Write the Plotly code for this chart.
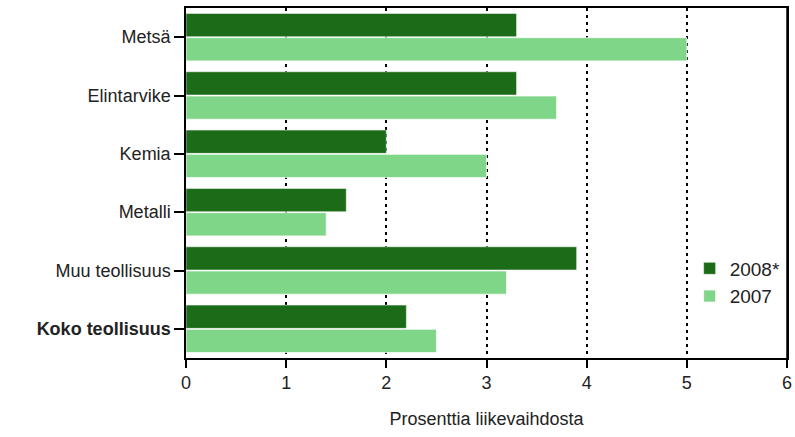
import plotly.graph_objects as go

categories = ["Metsä", "Elintarvike", "Kemia", "Metalli", "Muu teollisuus", "<b>Koko teollisuus</b>"]
values_2008 = [3.3, 3.3, 2.0, 1.6, 3.9, 2.2]
values_2007 = [5.0, 3.7, 3.0, 1.4, 3.2, 2.5]
x_ticks = [0, 1, 2, 3, 4, 5, 6]
x_ticktext = ["0", "1", "2", "3", "4", "5", "6"]

dark = "#1c6b18"
light = "#80d688"

fig = go.Figure()
fig.add_trace(go.Bar(y=categories, x=values_2008, orientation="h", name="2008*",
                     marker=dict(color=dark, line=dict(color="rgba(255,255,255,0.5)", width=1))))
fig.add_trace(go.Bar(y=categories, x=values_2007, orientation="h", name="2007",
                     marker=dict(color=light, line=dict(color="rgba(255,255,255,0.7)", width=1))))

# right frame line of the plot area
fig.add_shape(type="line", xref="paper", yref="paper", x0=1, x1=1, y0=0, y1=1,
              line=dict(color="black", width=1.5), layer="above")

font = "Liberation Sans, Arial, sans-serif"
fig.update_layout(
    width=795, height=437,
    margin=dict(l=186, r=8, t=8, b=79),
    paper_bgcolor="white", plot_bgcolor="white",
    barmode="group", bargap=0.17, bargroupgap=0.04,
    font=dict(family=font, size=18, color="#222"),
    showlegend=True,
    legend=dict(x=0.838, y=0.31, xanchor="left", yanchor="top",
                font=dict(size=19, color="#222"), bgcolor="rgba(0,0,0,0)",
                tracegroupgap=0, itemwidth=30),
    xaxis=dict(range=[0, 6], tickvals=x_ticks, ticktext=x_ticktext, automargin=False,
               ticklabeloverflow="allow",
               showgrid=True, gridcolor="black", gridwidth=1.5, griddash="3px,4px",
               zeroline=False, showline=True, linecolor="black", linewidth=1.5, mirror=True,
               ticks="outside", ticklen=8, tickwidth=1.5, tickcolor="black",
               title=dict(text="Prosenttia liikevaihdosta", standoff=20, font=dict(size=18)),
               tickfont=dict(size=18)),
    yaxis=dict(autorange="reversed", showgrid=False, showline=True, linecolor="black",
               linewidth=1.5, mirror=True, ticks="outside", ticklen=10, tickwidth=1.5,
               automargin=False, tickcolor="black", tickfont=dict(size=18)),
)
fig.write_html("out.html", config={"displayModeBar": False},
               post_script="document.body.style.margin='0px';document.body.style.overflow='hidden';")
